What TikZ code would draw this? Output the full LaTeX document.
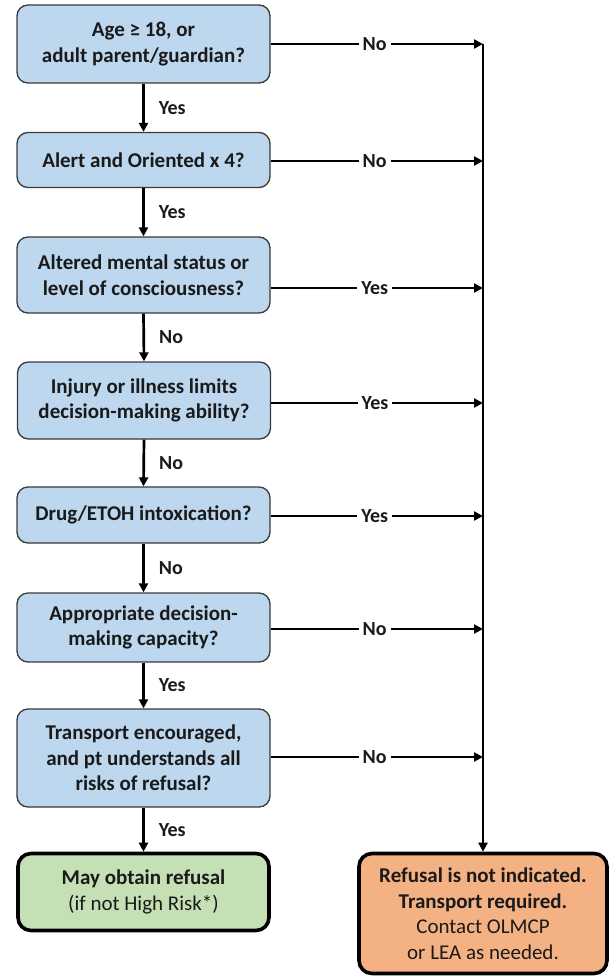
\documentclass[tikz,border=0pt]{standalone}
\usepackage{fontspec}
\setmainfont{Carlito}
\usetikzlibrary{arrows.meta,positioning}
\definecolor{qblue}{HTML}{BDD7EE}
\definecolor{okgreen}{HTML}{C5E0B4}
\definecolor{stoporange}{HTML}{F4B183}
\definecolor{qedge}{HTML}{3A3A3A}
\definecolor{ink}{HTML}{1A1A1A}
\tikzset{
  qbox/.style={draw=qedge, line width=1.3pt, fill=qblue, rounded corners=11pt,
    minimum width=253pt, align=center, inner sep=2pt, text=ink,
    font=\fontsize{21}{25.5}\selectfont\bfseries},
  endbox/.style={draw=black, line width=3.6pt, rounded corners=13pt, text=ink,
    align=center, inner sep=2pt, font=\fontsize{21}{25.5}\selectfont},
  conn/.style={line width=2.7pt, -{Triangle[length=9pt,width=9pt]}},
  lbl/.style={fill=white, inner sep=4pt, text=ink, font=\fontsize{20}{22}\selectfont\bfseries},
  dlbl/.style={inner sep=0pt, text=ink, font=\fontsize{20}{22}\selectfont\bfseries}
}
\begin{document}
\begin{tikzpicture}[x=1pt,y=-1pt]
\useasboundingbox (0,0) rectangle (615,979);

% question boxes, top to bottom
\node[qbox, minimum height=78pt] (b1) at (143.5,44) {Age ≥ 18, or\\adult parent/guardian?};
\node[qbox, minimum height=55pt] (b2) at (143.5,160) {Alert and Oriented x 4?};
\node[qbox, minimum height=76pt] (b3) at (143.5,275) {Altered mental status or\\level of consciousness?};
\node[qbox, minimum height=77pt] (b4) at (144,400.5) {Injury or illness limits\\decision-making ability?};
\node[qbox, minimum height=56pt] (b5) at (143.5,515) {Drug/ETOH intoxication?};
\node[qbox, minimum height=69pt] (b6) at (143.5,627.5) {Appropriate decision-\\making capacity?};
\node[qbox, minimum height=98pt] (b7) at (143.5,758) {Transport encouraged,\\and pt understands all\\risks of refusal?};

% outcome boxes
\node[endbox, fill=okgreen, minimum width=251pt, minimum height=77pt] (ok) at (143.5,892)
  {\textbf{May obtain refusal}\\(if not High Risk*)};
\node[endbox, fill=stoporange, minimum width=248pt, minimum height=120pt] (stop) at (483,913.5)
  {\textbf{Refusal is not indicated.}\\\textbf{Transport required.}\\Contact OLMCP\\or LEA as needed.};

% points on the collecting line
\coordinate (j1) at (483,44);
\coordinate (j2) at (483,161);
\coordinate (j3) at (483,288);
\coordinate (j4) at (483,403);
\coordinate (j5) at (483,516);
\coordinate (j6) at (483,629);
\coordinate (j7) at (483,757);

% collecting line down to the orange box
\draw[conn] (j1) -- (stop.north);

% branches to the right
\draw[conn] (b1.east) -- node[lbl, pos=0.49] {No} (j1);
\draw[conn] (b2.east |- j2) -- node[lbl, pos=0.49] {No} (j2);
\draw[conn] (b3.east |- j3) -- node[lbl, pos=0.49] {Yes} (j3);
\draw[conn] (b4.east |- j4) -- node[lbl, pos=0.49] {Yes} (j4);
\draw[conn] (b5.east |- j5) -- node[lbl, pos=0.49] {Yes} (j5);
\draw[conn] (b6.east |- j6) -- node[lbl, pos=0.49] {No} (j6);
\draw[conn] (b7.east |- j7) -- node[lbl, pos=0.49] {No} (j7);

% downward path
\draw[conn] (b1.south) -- node[dlbl, midway, right=14pt] {Yes} (b2.north);
\draw[conn] (b2.south) -- node[dlbl, midway, right=14pt] {Yes} (b3.north);
\draw[conn] (b3.south) -- node[dlbl, midway, right=14pt] {No} (b4.north);
\draw[conn] (b4.south) -- node[dlbl, midway, right=14pt] {No} (b5.north);
\draw[conn] (b5.south) -- node[dlbl, midway, right=14pt] {No} (b6.north);
\draw[conn] (b6.south) -- node[dlbl, midway, right=14pt] {Yes} (b7.north);
\draw[conn] (b7.south) -- node[dlbl, midway, right=14pt] {Yes} (ok.north);
\end{tikzpicture}
\end{document}
